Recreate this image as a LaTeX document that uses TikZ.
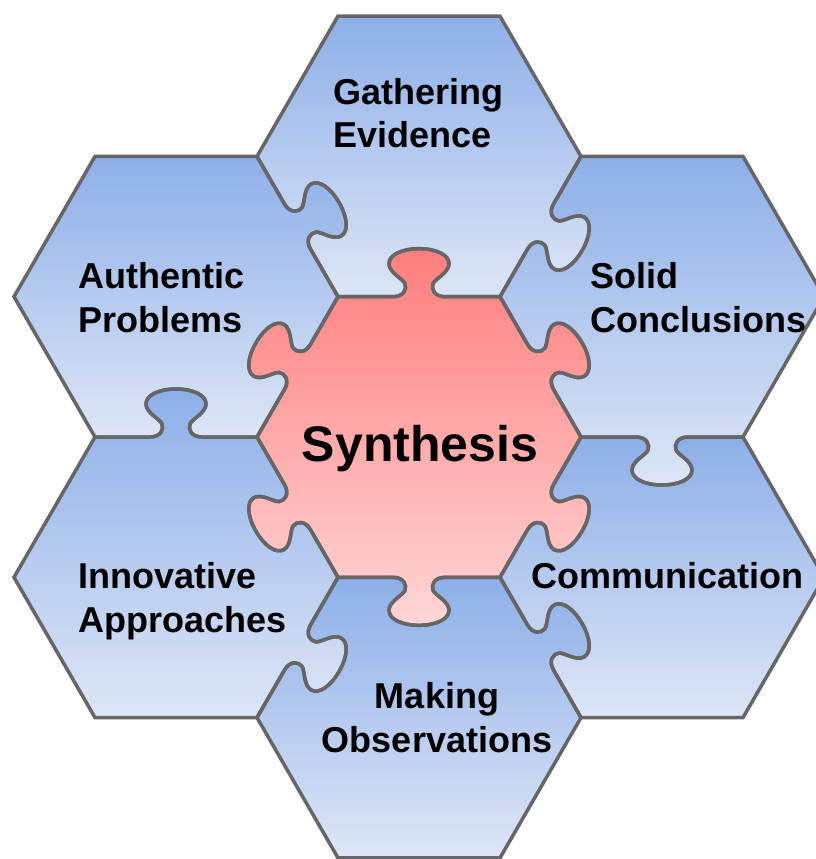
\documentclass[tikz,border=0pt]{standalone}
\usepackage{fontspec}
\setmainfont{Liberation Sans}
\usetikzlibrary{calc}
\definecolor{bluetop}{RGB}{141,175,232}
\definecolor{bluebot}{RGB}{221,230,246}
\definecolor{redtop}{RGB}{255,125,125}
\definecolor{redbot}{RGB}{255,214,214}
\definecolor{edgegray}{RGB}{102,102,102}

\newcommand\defknob[3]{%
 \begin{scope}[shift={($(#2)+({60*#3-30}:140.3)$)},rotate={60*#3-120}]
  \coordinate (#1-0) at (-26,0);
  \coordinate (#1-1) at (-15,0);
  \coordinate (#1-2) at (-12,8);
  \coordinate (#1-3) at (-14,13);
  \coordinate (#1-4) at (-16,18);
  \coordinate (#1-5) at (-30,24);
  \coordinate (#1-6) at (-30,33);
  \coordinate (#1-7) at (-30,42);
  \coordinate (#1-8) at (-17,48);
  \coordinate (#1-9) at (0,48);
  \coordinate (#1-10) at (17,48);
  \coordinate (#1-11) at (30,42);
  \coordinate (#1-12) at (30,33);
  \coordinate (#1-13) at (30,24);
  \coordinate (#1-14) at (16,18);
  \coordinate (#1-15) at (14,13);
  \coordinate (#1-16) at (12,8);
  \coordinate (#1-17) at (15,0);
  \coordinate (#1-18) at (26,0);
 \end{scope}}

\newcommand\knobf[1]{-- (#1-0) .. controls (#1-1) and (#1-2) .. (#1-3) .. controls (#1-4) and (#1-5) .. (#1-6) .. controls (#1-7) and (#1-8) .. (#1-9) .. controls (#1-10) and (#1-11) .. (#1-12) .. controls (#1-13) and (#1-14) .. (#1-15) .. controls (#1-16) and (#1-17) .. (#1-18)}
\newcommand\knobb[1]{-- (#1-18) .. controls (#1-17) and (#1-16) .. (#1-15) .. controls (#1-14) and (#1-13) .. (#1-12) .. controls (#1-11) and (#1-10) .. (#1-9) .. controls (#1-8) and (#1-7) .. (#1-6) .. controls (#1-5) and (#1-4) .. (#1-3) .. controls (#1-2) and (#1-1) .. (#1-0)}

\newcommand\pzC{(C0) \knobf{cLR} -- (C5) \knobf{cB} -- (C4) \knobf{cLL} -- (C3) \knobf{cUL} -- (C2) \knobf{cT} -- (C1) \knobf{cUR} -- cycle}
\newcommand\pzG{(G0) \knobf{gS} -- (G5) \knobb{cT} -- (G4) \knobb{aG} -- (G3) -- (G2) -- (G1) -- cycle}
\newcommand\pzA{(A0) \knobb{cUL} -- (A5) \knobb{aI} -- (A4) -- (A3) -- (A2) -- (A1) \knobf{aG} -- cycle}
\newcommand\pzS{(S0) -- (S5) \knobf{sK} -- (S4) \knobb{cUR} -- (S3) \knobb{gS} -- (S2) -- (S1) -- cycle}
\newcommand\pzK{(K0) -- (K5) -- (K4) \knobb{mK} -- (K3) \knobb{cLR} -- (K2) \knobb{sK} -- (K1) -- cycle}
\newcommand\pzM{(M0) -- (M5) -- (M4) -- (M3) \knobb{iM} -- (M2) \knobb{cB} -- (M1) \knobf{mK} -- cycle}
\newcommand\pzI{(I0) \knobf{iM} -- (I5) -- (I4) -- (I3) -- (I2) \knobf{aI} -- (I1) \knobb{cLL} -- cycle}

\begin{document}
\begin{tikzpicture}[x=1pt,y=1pt,
  blue piece/.style={top color=bluetop,bottom color=bluebot,draw=none},
  red piece/.style={top color=redtop,bottom color=redbot,draw=none},
  outline/.style={draw=edgegray,line width=3.5pt},
  lbl/.style={inner sep=0pt,font=\bfseries\fontsize{36}{40}\selectfont,text=black},
  biglbl/.style={inner sep=0pt,font=\bfseries\fontsize{50}{56}\selectfont,text=black}]
\useasboundingbox (0,0) rectangle (816,-859);
\fill[white] (0,0) rectangle (816,-859);
\clip (0,0) rectangle (816,-859);

\coordinate (C) at (419,-437);
\coordinate (G) at (419,-156.4);
\coordinate (M) at (419,-717.6);
\coordinate (A) at (176,-296.7);
\coordinate (S) at (662,-296.7);
\coordinate (I) at (176,-577.3);
\coordinate (K) at (662,-577.3);
\foreach \h in {C,G,M,A,S,I,K}{
  \foreach \k in {0,...,5}{
    \coordinate (\h\k) at ($(\h)+({60*\k}:162)$);
  }
}

\defknob{cT}{C}{2}
\defknob{cUR}{C}{1}
\defknob{cLR}{C}{0}
\defknob{cB}{C}{5}
\defknob{cLL}{C}{4}
\defknob{cUL}{C}{3}
\defknob{aG}{A}{1}
\defknob{gS}{G}{0}
\defknob{aI}{I}{2}
\defknob{sK}{S}{5}
\defknob{iM}{I}{0}
\defknob{mK}{M}{1}

\shade[blue piece] \pzG;
\shade[blue piece] \pzA;
\shade[blue piece] \pzS;
\shade[blue piece] \pzK;
\shade[blue piece] \pzM;
\shade[blue piece] \pzI;
\shade[red piece] \pzC;

\draw[outline] \pzG;
\draw[outline] \pzA;
\draw[outline] \pzS;
\draw[outline] \pzK;
\draw[outline] \pzM;
\draw[outline] \pzI;
\draw[outline] \pzC;

\node[lbl,anchor=base west] (t1) at (333,-104) {Gathering};
\node[lbl,anchor=base west] (t2) at (333,-147) {Evidence};
\node[lbl,anchor=base west] (t3) at (78,-288) {Authentic};
\node[lbl,anchor=base west] (t4) at (78,-332) {Problems};
\node[lbl,anchor=base west] (t5) at (590,-288) {Solid};
\node[lbl,anchor=base west] (t6) at (590,-332) {Conclusions};
\node[lbl,anchor=base west] (t7) at (78,-588) {Innovative};
\node[lbl,anchor=base west] (t8) at (78,-632) {Approaches};
\node[lbl,anchor=base west] (t9) at (531,-588) {Communication};
\node[lbl,anchor=base] (t10) at (437,-708) {Making};
\node[lbl,anchor=base] (t11) at (437,-752) {Observations};
\node[biglbl,anchor=base] (t12) at (420,-461) {Synthesis};
\end{tikzpicture}
\end{document}
